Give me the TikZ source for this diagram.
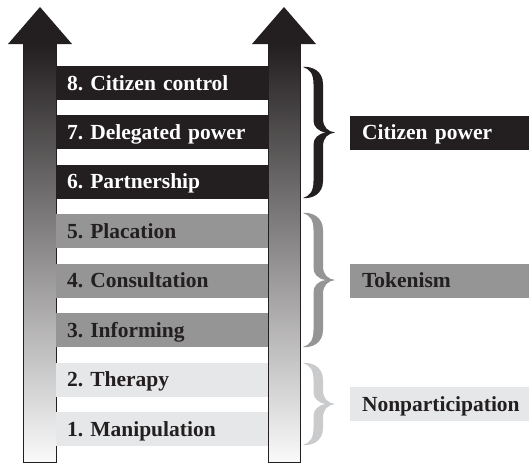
\documentclass[tikz,border=0pt]{standalone}
\usepackage{fontspec}
\setmainfont[WordSpace=0.8]{Liberation Serif}
\frenchspacing
\definecolor{ink}{HTML}{231F20}
\definecolor{midgray}{HTML}{959596}
\definecolor{lightgray}{HTML}{E6E7E8}
\definecolor{bracelight}{HTML}{CACBCC}

% filled curly brace: #1 top y, #2 bottom y, #3 tip y, #4 colour
\newcommand\ladderbrace[4]{%
  \fill[#4] (303,#1)
    .. controls (312,{#1-1}) and (323,{#1+4}) .. (323,{#1+17})
    -- (323,{#3-14})
    .. controls (323,{#3-5}) and (328,{#3-1}) .. (335,#3)
    .. controls (328,{#3+1}) and (323,{#3+5}) .. (323,{#3+14})
    -- (323,{#2-17})
    .. controls (323,{#2-4}) and (312,{#2+1}) .. (303,#2)
    .. controls (310,{#2-2}) and (313.5,{#2-7}) .. (313.5,{#2-17})
    -- (313.5,{#3+12})
    .. controls (313.5,{#3+6}) and (318,{#3+1}) .. (326,#3)
    .. controls (318,{#3-1}) and (313.5,{#3-6}) .. (313.5,{#3-12})
    -- (313.5,{#1+17})
    .. controls (313.5,{#1+7}) and (310,{#1+2}) .. (303,#1) -- cycle;}

\begin{document}
\begin{tikzpicture}[x=1pt,y=-1pt,
  lbl/.style={font=\fontsize{21.5}{24}\selectfont\bfseries\frenchspacing, text height=17pt,
    text depth=3pt, minimum height=34pt, inner ysep=0pt, align=left},
  rung/.style={lbl, minimum width=212pt, text width=190pt, inner xsep=11pt},
  group/.style={lbl, minimum width=179pt, text width=155pt, inner xsep=12pt},
  dark/.style={fill=ink, text=white},
  mid/.style={fill=midgray, text=ink},
  light/.style={fill=lightgray, text=ink},
  shaft/.style={top color=ink, middle color=black!58, bottom color=black!2,
    draw=ink, line width=0.9pt}]
\useasboundingbox (0,0) rectangle (529,464);
\fill[white] (0,0) rectangle (529,464);

% the two rails of the ladder
\shade[shaft] (23,44) rectangle (56,462);
\shade[shaft] (268,44) rectangle (300,462);
\fill[ink] (8,44) -- (40,7) -- (72,44) -- cycle;
\fill[ink] (252,44) -- (284,7) -- (316,44) -- cycle;

% rungs
\node[rung, dark]  (r8) at (162, 83.0)  {8. Citizen control};
\node[rung, dark]  (r7) at (162,132.4)  {7. Delegated power};
\node[rung, dark]  (r6) at (162,181.9)  {6. Partnership};
\node[rung, mid]   (r5) at (162,231.3)  {5. Placation};
\node[rung, mid]   (r4) at (162,280.7)  {4. Consultation};
\node[rung, mid]   (r3) at (162,330.1)  {3. Informing};
\node[rung, light] (r2) at (162,379.6)  {2. Therapy};
\node[rung, light] (r1) at (162,429.0)  {1. Manipulation};

% braces and group labels
\ladderbrace{67}{198}{132.5}{ink}
\ladderbrace{213}{347}{280}{midgray}
\ladderbrace{363}{445}{404}{bracelight}

\node[group, dark]  (g3) at (439.5,132.5) {Citizen power};
\node[group, mid]   (g2) at (439.5,280.5) {Tokenism};
\node[group, light] (g1) at (439.5,404)   {Nonparticipation};
\end{tikzpicture}
\end{document}
